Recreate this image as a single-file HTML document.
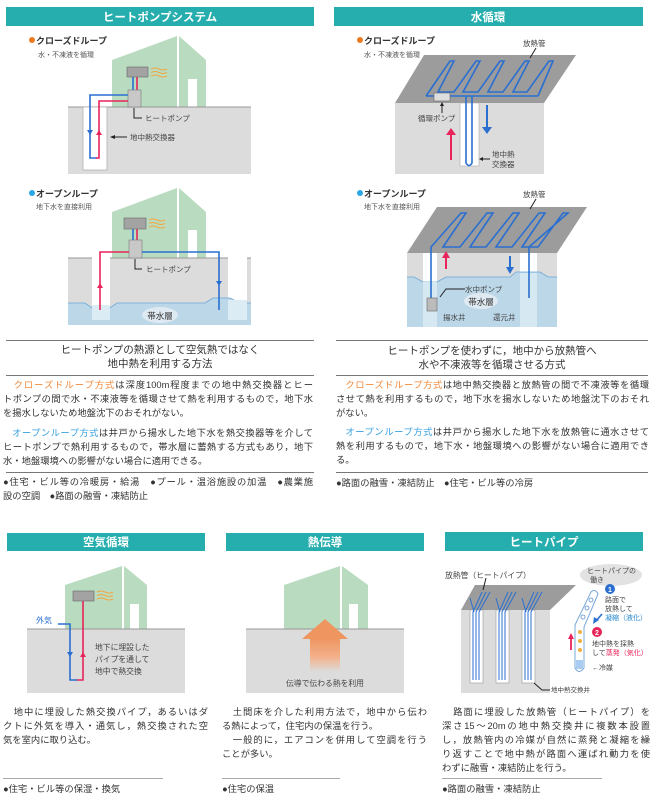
<!DOCTYPE html>
<html><head><meta charset="utf-8">
<style>
*{margin:0;padding:0}
body{width:654px;height:800px;background:#fff;position:relative;overflow:hidden;font-family:"Liberation Sans","Noto Sans CJK JP",sans-serif;color:#333}
svg{position:absolute;left:0;top:0}
.t{position:absolute;font-size:9.3px;line-height:14px;white-space:nowrap;color:#333}
.t span.l{display:block;text-align:justify;text-align-last:justify;overflow:hidden;height:14px}
.t span.e{display:block;height:14px}
.c{text-align:center}
.o{color:#f08a3c}
.b{color:#3aa0e0}
.hr{position:absolute;height:1px;background:#777}
</style></head><body>
<svg width="654" height="800" viewBox="0 0 654 800" font-family="Liberation Sans, Noto Sans CJK JP, sans-serif">
<defs>
<linearGradient id="ar" x1="0" y1="0" x2="0" y2="1"><stop offset="0" stop-color="#ee9560"/><stop offset="0.55" stop-color="#f3b08a"/><stop offset="1" stop-color="#f3b08a" stop-opacity="0"/></linearGradient>
</defs>
<g fill="#26adad">
<rect x="6" y="7" width="308" height="19"/>
<rect x="334" y="7" width="309" height="19"/>
<rect x="7" y="533" width="198" height="18"/>
<rect x="226" y="533" width="198" height="18"/>
<rect x="445" y="532" width="198" height="19"/>
</g>
<g fill="#fff" font-size="11.5" font-weight="bold" text-anchor="middle">
<text x="160" y="21">ヒートポンプシステム</text>
<text x="488" y="21">水循環</text>
<text x="106" y="546">空気循環</text>
<text x="325" y="546">熱伝導</text>
<text x="544" y="546">ヒートパイプ</text>
</g>

<g font-size="9" font-weight="bold" fill="#333">
<circle cx="32" cy="40" r="3" fill="#ee7a20"/><text x="36" y="44">クローズドループ</text>
<circle cx="32" cy="193" r="3" fill="#2aa8e0"/><text x="36" y="197">オープンループ</text>
<circle cx="360" cy="40" r="3" fill="#ee7a20"/><text x="364" y="44">クローズドループ</text>
<circle cx="360" cy="193" r="3" fill="#2aa8e0"/><text x="364" y="197">オープンループ</text>
</g>
<g font-size="7" fill="#555">
<text x="38" y="57">水・不凍液を循環</text>
<text x="36" y="209">地下水を直接利用</text>
<text x="364" y="57">水・不凍液を循環</text>
<text x="364" y="209">地下水を直接利用</text>
</g>

<!-- TL closed loop -->
<polygon points="112,60 177,36 177,107 112,107" fill="#b9dcc1"/>
<polygon points="179,36 206,60 206,107 179,107" fill="#b9dcc1"/>
<rect x="188" y="79" width="9" height="28" fill="#fff"/>
<rect x="68" y="107" width="183" height="67" fill="#dcdcdc"/>
<line x1="68" y1="107" x2="251" y2="107" stroke="#999"/>
<rect x="83" y="107" width="24" height="63" fill="#fff" stroke="#aaa" stroke-width="0.7"/>
<rect x="127" y="67" width="21" height="10" fill="#a3a3a3" stroke="#666" stroke-width="0.6"/>
<g stroke="#f3a640" fill="none" stroke-width="1"><path d="M151,69 q4,-2 8,0 t8,0"/><path d="M151,72.5 q4,-2 8,0 t8,0"/><path d="M151,76 q4,-2 8,0 t8,0"/></g>
<line x1="133" y1="77" x2="133" y2="90" stroke="#2a6fd0" stroke-width="1.6"/>
<line x1="137" y1="77" x2="137" y2="90" stroke="#e8245a" stroke-width="1.6"/>
<rect x="128" y="90" width="13" height="17" fill="#c8c8c8" stroke="#777" stroke-width="0.6"/>
<polyline points="128,95 90,95 90,158 97,158" fill="none" stroke="#2a6fd0" stroke-width="1.6"/>
<polyline points="128,101 99,101 99,158 96,158" fill="none" stroke="#e8245a" stroke-width="1.6"/>
<polygon points="87,130 93,130 90,135" fill="#2a6fd0"/><polygon points="96,135 102,135 99,130" fill="#e8245a"/>
<polyline points="134,108 134,118 142,118" fill="none" stroke="#222" stroke-width="1"/>
<line x1="112" y1="137" x2="127" y2="137" stroke="#222"/><polygon points="110,137 115,135 115,139" fill="#222"/>
<g font-size="7.5" fill="#444"><text x="145" y="121">ヒートポンプ</text><text x="130" y="140">地中熱交換器</text></g>

<!-- TL open loop -->
<polygon points="112,212 177,188 177,258 112,258" fill="#b9dcc1"/>
<polygon points="179,188 206,212 206,258 179,258" fill="#b9dcc1"/>
<rect x="188" y="230" width="9" height="28" fill="#fff"/>
<rect x="68" y="258" width="183" height="67" fill="#dcdcdc"/>
<rect x="92" y="258" width="18" height="50" fill="#fff"/>
<rect x="228" y="258" width="19" height="50" fill="#fff"/>
<line x1="68" y1="258" x2="92" y2="258" stroke="#999"/><line x1="110" y1="258" x2="228" y2="258" stroke="#999"/><line x1="247" y1="258" x2="251" y2="258" stroke="#999"/>
<path d="M68,303 L85,303 L92,308 L110,308 L117,303 L205,303 L213,298 L230,298 L240,303 L251,303 L251,325 L68,325Z" fill="#bcd7e8"/>
<path d="M68,303 L85,303 L92,308 L110,308 L117,303 L205,303 L213,298 L230,298 L240,303 L251,303" fill="none" stroke="#6aa6d6" stroke-width="0.8"/>
<rect x="92" y="305" width="18" height="15" fill="#dcecf4"/><rect x="228" y="300" width="19" height="20" fill="#dcecf4"/>
<ellipse cx="160" cy="315" rx="18" ry="8" fill="#dfe9f1"/>
<text x="160" y="319" font-size="8.5" text-anchor="middle" fill="#333">帯水層</text>
<rect x="124" y="218" width="22" height="11" fill="#a3a3a3" stroke="#666" stroke-width="0.6"/>
<g stroke="#f3a640" fill="none" stroke-width="1"><path d="M149,220 q4,-2 8,0 t8,0"/><path d="M149,223.5 q4,-2 8,0 t8,0"/><path d="M149,227 q4,-2 8,0 t8,0"/></g>
<line x1="133" y1="229" x2="133" y2="240" stroke="#2a6fd0" stroke-width="1.6"/>
<line x1="137" y1="229" x2="137" y2="240" stroke="#e8245a" stroke-width="1.6"/>
<rect x="129" y="240" width="13" height="18" fill="#c8c8c8" stroke="#777" stroke-width="0.6"/>
<polyline points="129,252 100,252 100,310" fill="none" stroke="#e8245a" stroke-width="1.6"/>
<polyline points="142,252 219,252 219,310" fill="none" stroke="#2a6fd0" stroke-width="1.6"/>
<polygon points="97,288 103,288 100,283" fill="#e8245a"/><polygon points="216,281 222,281 219,286" fill="#2a6fd0"/>
<polyline points="135,259 135,269 142,269" fill="none" stroke="#222"/>
<text x="146" y="272" font-size="7.5" fill="#444">ヒートポンプ</text>

<!-- TR closed loop -->
<polygon points="395,103 424,55 576,55 544,103" fill="#9c9c9c"/>
<rect x="395" y="103" width="149" height="71" fill="#dcdcdc"/>
<rect x="460" y="103" width="19" height="63" fill="#fff" stroke="#aaa" stroke-width="0.6"/>
<g fill="none" stroke="#2a6fd0" stroke-width="1.6">
<path d="M426,96 L538,96 M426,96 L450,61 L454,61 L438,92 L454,92 L476,61 L480,61 L463,92 L478,92 L500,61 L504,61 L488,92 L503,92 L525,61 L529,61 L513,92 L527,92 L549,61 L553,61 L538,96"/>
<path d="M466,96 L466,163 Q469,168 472,163 L472,96"/>
</g>
<rect x="434" y="93" width="16" height="8" fill="#ddd" stroke="#666" stroke-width="0.6"/>
<line x1="442" y1="104" x2="442" y2="113" stroke="#222"/><polygon points="442,102 440,106 444,106" fill="#222"/>
<line x1="451" y1="160" x2="451" y2="134" stroke="#e8245a" stroke-width="2"/><polygon points="446,135 456,135 451,128" fill="#e8245a"/>
<line x1="487" y1="105" x2="487" y2="128" stroke="#2a6fd0" stroke-width="2"/><polygon points="482,127 492,127 487,134" fill="#2a6fd0"/>
<line x1="536" y1="48" x2="530" y2="58" stroke="#222"/>
<line x1="481" y1="159" x2="490" y2="159" stroke="#222"/><polygon points="479,159 483,157 483,161" fill="#222"/>
<g font-size="7.5" fill="#444"><text x="523" y="46">放熱管</text><text x="418" y="121">循環ポンプ</text><text x="492" y="157">地中熱</text><text x="492" y="167">交換器</text></g>

<!-- TR open loop -->
<polygon points="407,253 437,207 587,207 557,253" fill="#9c9c9c"/>
<rect x="407" y="253" width="150" height="74" fill="#dcdcdc"/>
<rect x="423" y="253" width="14" height="74" fill="#fff"/>
<rect x="520" y="253" width="17" height="74" fill="#fff"/>
<path d="M407,277 L414,277 L423,282 L437,282 L446,277 L510,277 L516,272 L540,272 L548,277 L557,277 L557,327 L407,327Z" fill="#bcd7e8"/>
<path d="M407,277 L414,277 L423,282 L437,282 L446,277 L510,277 L516,272 L540,272 L548,277 L557,277" fill="none" stroke="#6aa6d6" stroke-width="0.8"/>
<rect x="423" y="282" width="14" height="45" fill="#d6e8f2"/><rect x="520" y="273" width="17" height="54" fill="#d6e8f2"/>
<g fill="none" stroke="#2a6fd0" stroke-width="1.6">
<path d="M431,300 L431,247 L461,213 L466,213 L443,247 L460,247 L487,213 L493,213 L470,247 L486,247 L513,213 L519,213 L496,247 L512,247 L539,213 L545,213 L522,247 L538,247 L563,213 L568,213 L529,247 L529,298"/>
</g>
<rect x="427" y="298" width="10" height="13" fill="#bbb" stroke="#666" stroke-width="0.6"/>
<line x1="446" y1="269" x2="446" y2="257" stroke="#e8245a" stroke-width="2"/><polygon points="442,258 450,258 446,251" fill="#e8245a"/>
<line x1="510" y1="256" x2="510" y2="268" stroke="#2a6fd0" stroke-width="2"/><polygon points="506,267 514,267 510,274" fill="#2a6fd0"/>
<ellipse cx="481" cy="301" rx="17" ry="8" fill="#dfe9f1"/>
<text x="481" y="305" font-size="8.5" text-anchor="middle" fill="#333">帯水層</text>
<polyline points="465,289 446,289 440,297" fill="none" stroke="#222"/>
<line x1="536" y1="199" x2="530" y2="209" stroke="#222"/>
<g font-size="7.5" fill="#444"><text x="523" y="197">放熱管</text><text x="465" y="292">水中ポンプ</text><text x="443" y="320">揚水井</text><text x="493" y="320">還元井</text></g>

<!-- BL air -->
<polygon points="65,585 122,566 122,629 65,629" fill="#b9dcc1"/>
<polygon points="124,566 147,585 147,629 124,629" fill="#b9dcc1"/>
<rect x="130" y="604" width="9" height="25" fill="#fff"/>
<rect x="27" y="629" width="158" height="64" fill="#dcdcdc"/>
<line x1="27" y1="629" x2="185" y2="629" stroke="#999"/>
<rect x="73" y="591" width="21" height="10" fill="#a3a3a3" stroke="#666" stroke-width="0.6"/>
<g stroke="#f3a640" fill="none" stroke-width="1"><path d="M97,592 q4,-2 8,0 t8,0"/><path d="M97,595.5 q4,-2 8,0 t8,0"/><path d="M97,599 q4,-2 8,0 t8,0"/></g>
<polyline points="83,601 83,680 76,680" fill="none" stroke="#e8245a" stroke-width="1.6"/>
<polyline points="58,624 70,624 70,680 77,680" fill="none" stroke="#2a6fd0" stroke-width="1.6"/>
<polygon points="67,652 73,652 70,657" fill="#2a6fd0"/><polygon points="80,657 86,657 83,652" fill="#e8245a"/>
<text x="36" y="623" font-size="8" fill="#2a6fd0">外気</text>
<g font-size="7.8" fill="#444"><text x="95" y="650">地下に埋設した</text><text x="95" y="662">パイプを通して</text><text x="95" y="674">地中で熱交換</text></g>

<!-- BM conduction -->
<polygon points="284,585 340,566 340,629 284,629" fill="#b9dcc1"/>
<polygon points="342,566 368,585 368,629 342,629" fill="#b9dcc1"/>
<rect x="349" y="604" width="9" height="25" fill="#fff"/>
<rect x="246" y="629" width="158" height="64" fill="#dcdcdc"/>
<line x1="246" y1="629" x2="404" y2="629" stroke="#999"/>
<rect x="310" y="638" width="30" height="34" fill="url(#ar)"/>
<polygon points="302,639 325,619 348,639" fill="#ee9560"/>
<text x="325" y="686" font-size="7.8" text-anchor="middle" fill="#444">伝導で伝わる熱を利用</text>

<!-- BR heat pipe -->
<polygon points="461,610 475,585 576,585 550,610" fill="#9c9c9c"/>
<rect x="461" y="610" width="89" height="83" fill="#dcdcdc"/>
<g fill="#fff" stroke="#999" stroke-width="0.6">
<rect x="470" y="610" width="13" height="73"/><rect x="496" y="610" width="13" height="73"/><rect x="522" y="610" width="13" height="73"/>
</g>
<g stroke="#2a6fd0" stroke-width="1" fill="none">
<path d="M473,680 V612 L482,592 M476,680 V612 L486,592 M479,680 V612 L490,592 M474,612 L470,598"/>
<path d="M499,680 V612 L508,592 M502,680 V612 L512,592 M505,680 V612 L516,592 M500,612 L496,598"/>
<path d="M525,680 V612 L534,592 M528,680 V612 L538,592 M531,680 V612 L542,592 M526,612 L522,598"/>
</g>
<polyline points="486,578 483,590" stroke="#222" fill="none"/>
<polyline points="534,683 542,690 550,690" stroke="#222" fill="none"/>
<g font-size="7.8" fill="#444"><text x="445" y="578">放熱管（ヒートパイプ）</text><text x="551" y="692" font-size="6.5">地中熱交換井</text></g>
<ellipse cx="611" cy="575" rx="31" ry="11" fill="#e2e2e2"/>
<g font-size="7" fill="#444"><text x="587" y="573">ヒートパイプの</text><text x="590" y="582">働き</text></g>
<path d="M575,625 L591,592 Q595,588 598,594 L584,627 L584,668 Q579,675 575,668Z" fill="#fff" stroke="#7aa8d8" stroke-width="1"/>
<rect x="576" y="660" width="7" height="9" fill="#a8cdf0"/>
<g fill="none" stroke="#5a8fd0" stroke-width="0.8"><circle cx="591" cy="600" r="2"/><circle cx="587" cy="608" r="2"/><circle cx="583" cy="617" r="2"/></g>
<g fill="#f0b040"><circle cx="580" cy="632" r="2"/><circle cx="580" cy="641" r="2"/><circle cx="580" cy="650" r="2"/></g>
<line x1="602" y1="614" x2="596" y2="621" stroke="#2a6fd0" stroke-width="1.6"/><polygon points="593,624 594,617 599,620" fill="#2a6fd0"/>
<line x1="571" y1="650" x2="571" y2="638" stroke="#e8245a" stroke-width="1.8"/><polygon points="568,639 574,639 571,633" fill="#e8245a"/>
<circle cx="610" cy="589" r="5" fill="#2a6fd0"/><text x="610" y="592" font-size="7" fill="#fff" text-anchor="middle" font-weight="bold">1</text>
<circle cx="597" cy="632" r="5" fill="#e8245a"/><text x="597" y="635" font-size="7" fill="#fff" text-anchor="middle" font-weight="bold">2</text>
<g font-size="7" fill="#444"><text x="605" y="602">路面で</text><text x="605" y="611">放熱して</text><text x="605" y="620" fill="#2a8ad0">凝縮（液化）</text>
<text x="592" y="646">地中熱を採熱</text><text x="592" y="655">して<tspan fill="#e8245a">蒸発（気化）</tspan></text><text x="592" y="670">←冷媒</text></g>
</svg>

<div class="hr" style="left:6px;top:340px;width:308px"></div>
<div class="hr" style="left:6px;top:375px;width:308px"></div>
<div class="hr" style="left:6px;top:472px;width:308px"></div>
<div class="hr" style="left:336px;top:340px;width:312px"></div>
<div class="hr" style="left:336px;top:375px;width:312px"></div>
<div class="hr" style="left:336px;top:472px;width:312px"></div>
<div class="hr" style="left:3px;top:778px;width:160px;background:#aaa"></div>
<div class="hr" style="left:222px;top:778px;width:118px;background:#aaa"></div>
<div class="hr" style="left:442px;top:778px;width:160px;background:#aaa"></div>

<div class="t c" style="left:6px;top:343px;width:308px;font-size:10.5px">ヒートポンプの熱源として空気熱ではなく<br>地中熱を利用する方法</div>
<div class="t" style="left:3px;top:378px;width:310px"><span class="l">&nbsp;&nbsp;&nbsp;<span class="o">クローズドループ方式</span>は深度100m程度までの地中熱交換器とヒー</span><span class="l">トポンプの間で水・不凍液等を循環させて熱を利用するもので，地下水</span><span class="e">を揚水しないため地盤沈下のおそれがない。</span></div>
<div class="t" style="left:3px;top:426px;width:310px"><span class="l">&nbsp;&nbsp;&nbsp;<span class="b">オープンループ方式</span>は井戸から揚水した地下水を熱交換器等を介して</span><span class="l">ヒートポンプで熱利用するもので，帯水層に蓄熱する方式もあり，地下</span><span class="e">水・地盤環境への影響がない場合に適用できる。</span></div>
<div class="t" style="left:3px;top:475px;width:310px"><span class="l">●住宅・ビル等の冷暖房・給湯　●プール・温浴施設の加温　●農業施</span><span class="e">設の空調　●路面の融雪・凍結防止</span></div>

<div class="t c" style="left:336px;top:344px;width:312px;font-size:10.5px">ヒートポンプを使わずに，地中から放熱管へ<br>水や不凍液等を循環させる方式</div>
<div class="t" style="left:336px;top:378px;width:313px"><span class="l">&nbsp;&nbsp;&nbsp;<span class="o">クローズドループ方式</span>は地中熱交換器と放熱管の間で不凍液等を循環</span><span class="l">させて熱を利用するもので，地下水を揚水しないため地盤沈下のおそれ</span><span class="e">がない。</span></div>
<div class="t" style="left:336px;top:425px;width:313px"><span class="l">&nbsp;&nbsp;&nbsp;<span class="b">オープンループ方式</span>は井戸から揚水した地下水を放熱管に通水させて</span><span class="l">熱を利用するもので，地下水・地盤環境への影響がない場合に適用でき</span><span class="e">る。</span></div>
<div class="t" style="left:336px;top:476px">●路面の融雪・凍結防止　●住宅・ビル等の冷房</div>

<div class="t" style="left:3px;top:705px;width:205px"><span class="l">&nbsp;&nbsp;&nbsp;地中に埋設した熱交換パイプ，あるいはダ</span><span class="l">クトに外気を導入・通気し，熱交換された空</span><span class="e">気を室内に取り込む。</span></div>
<div class="t" style="left:3px;top:782px">●住宅・ビル等の保湿・換気</div>
<div class="t" style="left:222px;top:705px;width:205px"><span class="l">&nbsp;&nbsp;&nbsp;土間床を介した利用方法で，地中から伝わ</span><span class="e">る熱によって，住宅内の保温を行う。</span><span class="l">&nbsp;&nbsp;&nbsp;一般的に，エアコンを併用して空調を行う</span><span class="e">ことが多い。</span></div>
<div class="t" style="left:222px;top:782px">●住宅の保温</div>
<div class="t" style="left:442px;top:705px;width:208px"><span class="l">&nbsp;&nbsp;&nbsp;路面に埋設した放熱管（ヒートパイプ）を</span><span class="l">深さ15～20mの地中熱交換井に複数本設置</span><span class="l">し，放熱管内の冷媒が自然に蒸発と凝縮を繰</span><span class="l">り返すことで地中熱が路面へ運ばれ動力を使</span><span class="e">わずに融雪・凍結防止を行う。</span></div>
<div class="t" style="left:442px;top:782px">●路面の融雪・凍結防止</div>
</body></html>
